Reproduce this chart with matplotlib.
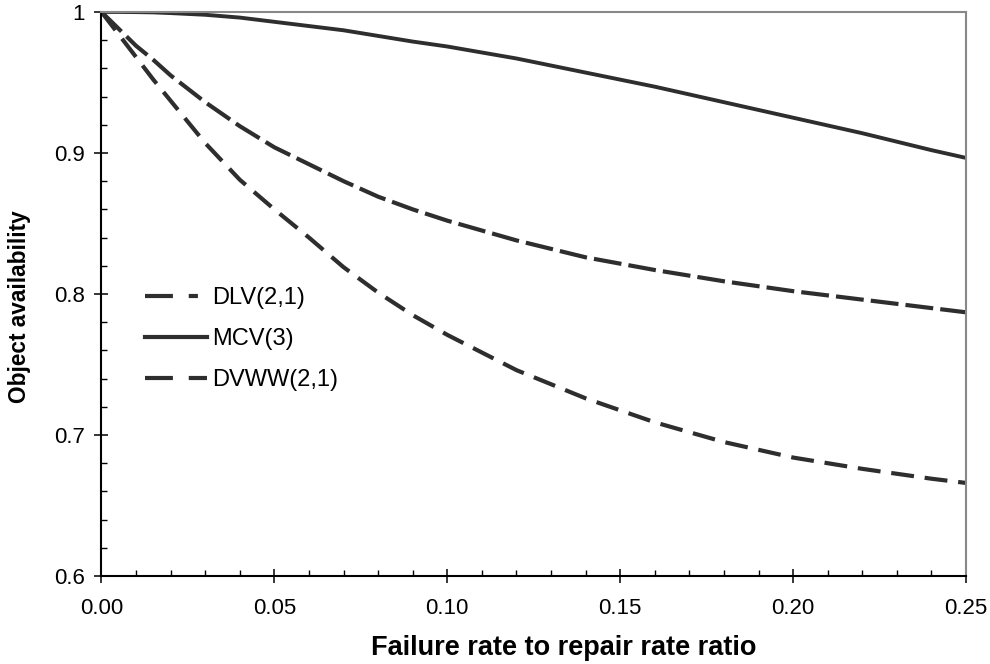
import numpy as np
import matplotlib
matplotlib.use('Agg')
from matplotlib import pyplot as plt
from matplotlib.lines import Line2D
from matplotlib.ticker import MultipleLocator

plt.rcParams['font.family'] = ['Liberation Sans', 'DejaVu Sans']

# failure rate to repair rate ratio
ratio = [0.0, 0.005, 0.01, 0.015, 0.02, 0.03, 0.04, 0.05, 0.06, 0.07, 0.08, 0.09, 0.10,
         0.12, 0.14, 0.16, 0.18, 0.20, 0.22, 0.24, 0.25]
# object availability
dlv = [1.0, 0.984, 0.968, 0.952, 0.937, 0.907, 0.881, 0.860, 0.840, 0.819, 0.801, 0.785, 0.771,
       0.746, 0.726, 0.709, 0.695, 0.684, 0.676, 0.669, 0.666]
mcv = [1.0, 1.0, 0.9999, 0.9997, 0.9992, 0.998, 0.996, 0.993, 0.990, 0.987, 0.983, 0.979, 0.9755,
       0.967, 0.957, 0.947, 0.936, 0.925, 0.914, 0.902, 0.8965]
dvww = [1.0, 0.988, 0.976, 0.966, 0.955, 0.936, 0.919, 0.904, 0.892, 0.880, 0.869, 0.860, 0.852,
        0.838, 0.826, 0.817, 0.809, 0.802, 0.796, 0.790, 0.787]

labels = ['DLV(2,1)', 'MCV(3)', 'DVWW(2,1)']
xticks = [0.0, 0.05, 0.10, 0.15, 0.20, 0.25]
xticklabels = ['0.00', '0.05', '0.10', '0.15', '0.20', '0.25']
yticks = [0.6, 0.7, 0.8, 0.9, 1.0]
yticklabels = ['0.6', '0.7', '0.8', '0.9', '1']

col = '#2e2e2e'

fig = plt.figure(figsize=(9.9, 6.64), dpi=100)
ax = fig.add_axes([0.1025, 0.1325, 0.8733, 0.8495])

ax.plot(ratio, dlv, color=col, lw=3.0, dashes=(5.5, 2.6))
ax.plot(ratio, mcv, color=col, lw=2.8, solid_capstyle='butt')
ax.plot(ratio, dvww, color=col, lw=3.0, dashes=(6.7, 1.7))

ax.set_xlim(0, 0.25)
ax.set_ylim(0.6, 1.0)
ax.set_xticks(xticks)
ax.set_xticklabels(xticklabels)
ax.set_yticks(yticks)
ax.set_yticklabels(yticklabels)
ax.xaxis.set_minor_locator(MultipleLocator(0.01))
ax.yaxis.set_minor_locator(MultipleLocator(0.02))
ax.tick_params(which='major', direction='inout', length=9.5, width=1.1, labelsize=16)
ax.tick_params(axis='x', which='major', pad=11)
ax.tick_params(axis='y', which='major', pad=7)
ax.tick_params(which='minor', direction='in', length=4.5, width=1.0)

for s in ['top', 'right']:
    ax.spines[s].set_color('#888888')
    ax.spines[s].set_linewidth(1.5)
for s in ['left', 'bottom']:
    ax.spines[s].set_color('black')
    ax.spines[s].set_linewidth(1.5)

ax.set_xlabel('Failure rate to repair rate ratio', fontsize=19.5, fontweight='bold')
ax.xaxis.set_label_coords((564 - 101.7) / 865, (576 - 635) / 564)
ax.set_ylabel('Object availability', fontsize=16.3, fontweight='bold')
ax.yaxis.set_label_coords((31 - 101.7) / 865, 0.478)

handles = [Line2D([], [], color=col, lw=3.0, dashes=(6.7, 3.8, 2.2, 20)),
           Line2D([], [], color=col, lw=3.0),
           Line2D([], [], color=col, lw=3.0, dashes=(6.7, 3.8))]
ax.legend(handles, labels, loc='center left', bbox_to_anchor=(0.05, 0.42), frameon=False,
          fontsize=17, handlelength=2.62, handletextpad=0.25, labelspacing=0.8,
          borderpad=0, borderaxespad=0)

plt.savefig('out.png', dpi=100)
